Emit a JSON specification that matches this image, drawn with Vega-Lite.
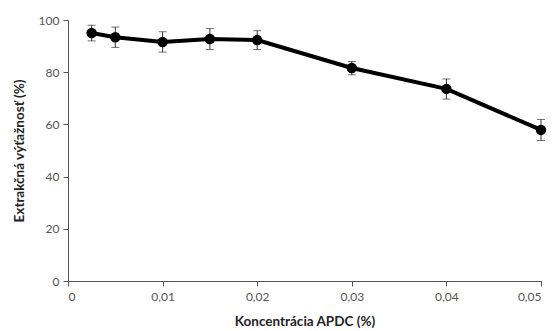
{
  "$schema": "https://vega.github.io/schema/vega-lite/v6.json",
  "width": 473,
  "height": 261,
  "autosize": {"type": "none"},
  "padding": {"left": 68, "top": 20, "right": 14, "bottom": 50},
  "background": "white",
  "config": {
    "view": {"stroke": null},
    "axis": {
      "labelFont": "Lato",
      "titleFont": "Lato",
      "labelFontSize": 12,
      "labelColor": "#555555",
      "titleFontSize": 13.5,
      "titleFontWeight": "bold",
      "titleColor": "#222222",
      "domainColor": "#555555",
      "tickColor": "#555555",
      "grid": false
    }
  },
  "data": {
    "values": [
      {"c": 0.0025, "v": 95.0, "lo": 92.0, "hi": 98.0},
      {"c": 0.005, "v": 93.4, "lo": 89.5, "hi": 97.3},
      {"c": 0.01, "v": 91.6, "lo": 87.7, "hi": 95.5},
      {"c": 0.015, "v": 92.7, "lo": 88.7, "hi": 96.7},
      {"c": 0.02, "v": 92.3, "lo": 88.7, "hi": 95.9},
      {"c": 0.03, "v": 81.6, "lo": 79.0, "hi": 84.1},
      {"c": 0.04, "v": 73.6, "lo": 69.7, "hi": 77.4},
      {"c": 0.05, "v": 57.9, "lo": 53.8, "hi": 61.9}
    ]
  },
  "layer": [
    {
      "mark": {"type": "errorbar", "ticks": {"size": 8, "color": "#333333", "strokeWidth": 1}, "rule": {"color": "#333333", "strokeWidth": 1}},
      "encoding": {
        "x": {"field": "c", "type": "quantitative", "title": "Koncentrácia APDC (%)"},
        "y": {"field": "lo", "type": "quantitative", "title": "Extrakčná výťažnosť (%)"},
        "y2": {"field": "hi"}
      }
    },
    {
      "mark": {"type": "line", "color": "black", "strokeWidth": 4},
      "encoding": {
        "x": {
          "field": "c", "type": "quantitative",
          "scale": {"domain": [0, 0.05], "nice": false},
          "axis": {
            "values": [0, 0.01, 0.02, 0.03, 0.04, 0.05],
            "labelExpr": "replace(format(datum.value, '.2~f'), '.', ',')",
            "title": "Koncentrácia APDC (%)",
            "tickSize": 5,
            "labelPadding": 5,
            "titlePadding": 12
          }
        },
        "y": {
          "field": "v", "type": "quantitative",
          "scale": {"domain": [0, 100], "nice": false},
          "axis": {
            "values": [0, 20, 40, 60, 80, 100],
            "title": "Extrakčná výťažnosť (%)",
            "tickSize": 5,
            "labelPadding": 4,
            "titlePadding": 12
          }
        }
      }
    },
    {
      "mark": {"type": "point", "filled": true, "color": "black", "size": 110, "opacity": 1},
      "encoding": {
        "x": {"field": "c", "type": "quantitative"},
        "y": {"field": "v", "type": "quantitative"}
      }
    }
  ]
}
